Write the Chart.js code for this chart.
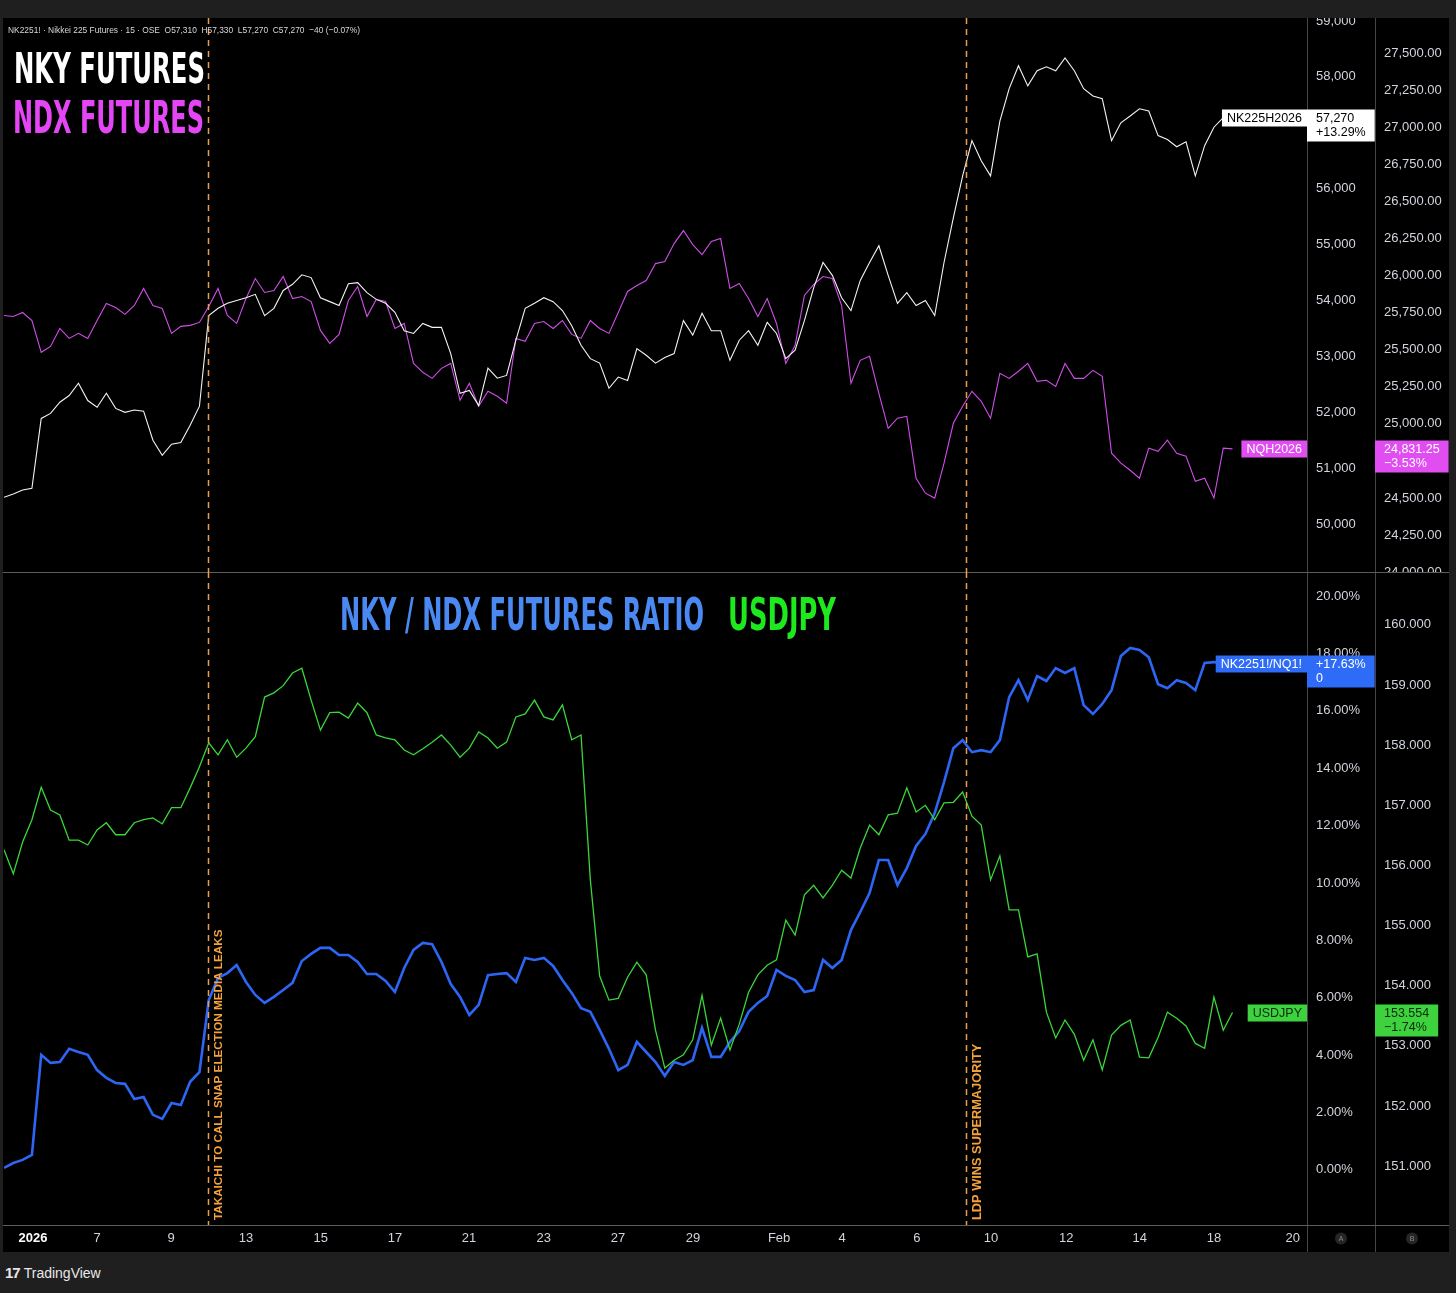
<!DOCTYPE html>
<html>
<head>
<meta charset="utf-8">
<title>NKY / NDX futures ratio vs USDJPY</title>
<script src="https://cdn.jsdelivr.net/npm/chart.js@4.4.1/dist/chart.umd.min.js"></script>
<style>
    body {
        margin: 0;
        width: 1456px;
        height: 1293px;
        overflow: hidden;
        background: #1f1f1f;
        font-family: "Liberation Sans", Arial, sans-serif;
    }

    #panel {
        position: absolute;
        left: 3px;
        top: 18px;
        width: 1446px;
        height: 1234px;
        background: #000;
    }

    .pane {
        position: absolute;
        left: 3px;
        width: 1446px;
    }

    #topPane { top: 18px; height: 554px; }
    #botPane { top: 572px; height: 680px; }

    .vline { position: absolute; top: 18px; width: 1px; height: 1234px; background: #454545; }
    .hline { position: absolute; left: 3px; width: 1446px; height: 1px; background: #5c5c5c; }

    .title {
        position: absolute;
        font-family: "DejaVu Sans Condensed", "DejaVu Sans", sans-serif;
        font-weight: bold;
        font-stretch: condensed;
        line-height: 1;
        white-space: nowrap;
        transform-origin: 0 0;
    }

    #legend {
        position: absolute;
        left: 8px;
        top: 24px;
        font-size: 9.5px;
        line-height: 11px;
        color: #d8d8d8;
        white-space: nowrap;
        transform-origin: 0 0;
    }

    #brand {
        position: absolute;
        left: 5px;
        top: 1264px;
        font-size: 14px;
        line-height: 18px;
        color: #e8e8e8;
    }

    #brand b {
        font-weight: 900;
        font-size: 15px;
        letter-spacing: -1px;
        margin-right: 4px;
    }
</style>
</head>
<body>
<div id="panel"></div>
<div class="vline" style="left:1307px"></div>
<div class="vline" style="left:1375px"></div>
<div class="hline" style="top:572px"></div>
<div class="hline" style="top:1225px"></div>

<div class="pane" id="topPane"><canvas id="topChart"></canvas></div>
<div class="pane" id="botPane"><canvas id="botChart"></canvas></div>

<div id="legend" data-w="352">NK2251! · Nikkei 225 Futures · 15 · OSE&nbsp; O57,310&nbsp; H57,330&nbsp; L57,270&nbsp; C57,270&nbsp; −40 (−0.07%)</div>
<div class="title" data-w="191" style="left:14px; top:46.6px; font-size:43px; color:#ffffff">NKY FUTURES</div>
<div class="title" data-w="191" style="left:13px; top:95.8px; font-size:44px; color:#e546f5">NDX FUTURES</div>
<div class="title" data-w="364" style="left:340px; top:592px; font-size:45px; color:#4a88f2">NKY / NDX FUTURES RATIO</div>
<div class="title" data-w="108" style="left:728px; top:592px; font-size:45px; color:#1ee81e">USDJPY</div>
<div id="brand"><b>17</b>TradingView</div>

<script>
    // quarter-session steps, Jan 5 - Feb 18 2026 (x = trading days from the left edge)
    const step = 0.25;

    const nky = [
        50480, 50540, 50610, 50640, 51890, 51980, 52180, 52300, 52520, 52210,
        52090, 52340, 52070, 52000, 52040, 52020, 51500, 51230, 51430, 51460,
        51770, 52110, 53730, 53860, 53950, 54000, 54050, 54110, 53730, 53860,
        54180, 54290, 54460, 54410, 54050, 53980, 53910, 54300, 54320, 54140,
        54020, 53950, 53790, 53460, 53410, 53590, 53520, 53520, 53050, 52340,
        52390, 52120, 52790, 52610, 52660, 53290, 53860, 53950, 54050, 53980,
        53820, 53550, 53200, 52960, 52880, 52430, 52630, 52570, 53140, 53020,
        52880, 52980, 53050, 53640, 53380, 53770, 53460, 53460, 52930, 53290,
        53460, 53200, 53610, 53410, 52960, 53110, 53640, 54230, 54680, 54450,
        54050, 53820, 54360, 54680, 54980, 54450, 53950, 54140, 53910, 54000,
        53730, 54680, 55480, 56230, 56860, 56500, 56230, 57210, 57790, 58200,
        57840, 58110, 58180, 58110, 58340, 58110, 57790, 57660, 57610, 56860,
        57180, 57300, 57430, 57390, 56950, 56880, 56750, 56840, 56230, 56770,
        57100, 57270, null
    ];

    const ndx = [
        25732, 25725, 25752, 25698, 25483, 25523, 25644, 25577, 25611, 25577,
        25698, 25813, 25786, 25739, 25799, 25914, 25799, 25779, 25611, 25658,
        25665, 25685, 25793, 25914, 25732, 25678, 25846, 25981, 25887, 25900,
        25995, 25846, 25860, 25826, 25631, 25543, 25604, 25833, 25927, 25725,
        25840, 25826, 25644, 25678, 25408, 25348, 25307, 25375, 25408, 25159,
        25274, 25119, 25220, 25186, 25139, 25577, 25557, 25678, 25691, 25644,
        25698, 25604, 25577, 25698, 25644, 25611, 25752, 25894, 25934, 25968,
        26082, 26096, 26217, 26305, 26210, 26143, 26231, 26251, 25914, 25948,
        25846, 25725, 25846, 25678, 25408, 25530, 25867, 25941, 25995, 25981,
        25799, 25274, 25429, 25456, 25206, 24970, 25038, 25051, 24633, 24532,
        24499, 24735, 25004, 25119, 25220, 25152, 25038, 25341, 25307, 25355,
        25408, 25287, 25294, 25253, 25408, 25307, 25307, 25361, 25321, 24802,
        24735, 24687, 24633, 24836, 24815, 24890, 24802, 24782, 24613, 24633,
        24499, 24836, 24831.25
    ];

    // NK2251!/NQ1! ratio, % change
    const ratio = [
        0.07, 0.24, 0.35, 0.52, 4.01, 3.73, 3.76, 4.22, 4.11, 4.01,
        3.48, 3.21, 3.03, 3.00, 2.47, 2.54, 1.92, 1.78, 2.33, 2.26,
        3.07, 3.41, 5.92, 6.69, 6.86, 7.14, 6.55, 6.10, 5.82, 6.03,
        6.27, 6.52, 7.28, 7.53, 7.74, 7.74, 7.49, 7.49, 7.25, 6.83,
        6.83, 6.59, 6.20, 7.04, 7.67, 7.91, 7.87, 7.25, 6.48, 6.03,
        5.40, 5.75, 6.79, 6.83, 6.86, 6.55, 7.39, 7.32, 7.39, 7.11,
        6.62, 6.17, 5.64, 5.51, 4.88, 4.22, 3.48, 3.66, 4.46, 4.11,
        3.76, 3.28, 3.76, 3.66, 3.83, 4.95, 3.94, 3.94, 4.46, 4.84,
        5.51, 5.82, 6.06, 6.97, 6.76, 6.62, 6.20, 6.27, 7.32, 7.04,
        7.32, 8.36, 8.99, 9.65, 10.80, 10.80, 9.93, 10.52, 11.29, 11.71,
        12.44, 13.52, 14.70, 14.98, 14.56, 14.63, 14.56, 14.98, 16.48, 17.07,
        16.38, 17.21, 17.04, 17.49, 17.32, 17.49, 16.20, 15.89, 16.24, 16.72,
        17.91, 18.19, 18.12, 17.87, 16.93, 16.79, 17.07, 16.97, 16.72, 17.67,
        17.70, 17.63, 17.63
    ];

    const usdjpy = [
        156.26, 155.86, 156.39, 156.76, 157.30, 156.92, 156.84, 156.42, 156.42, 156.34,
        156.59, 156.71, 156.51, 156.51, 156.71, 156.76, 156.79, 156.69, 156.96, 156.96,
        157.29, 157.64, 158.04, 157.84, 158.09, 157.80, 157.95, 158.14, 158.80, 158.87,
        158.99, 159.20, 159.28, 158.75, 158.25, 158.54, 158.55, 158.45, 158.70, 158.54,
        158.17, 158.12, 158.09, 157.92, 157.84, 157.94, 158.05, 158.17, 158.00, 157.80,
        157.95, 158.22, 158.12, 157.95, 158.05, 158.47, 158.52, 158.75, 158.47, 158.42,
        158.67, 158.09, 158.17, 155.76, 154.16, 153.76, 153.79, 154.14, 154.39, 154.18,
        153.26, 152.63, 152.76, 152.85, 153.10, 153.84, 153.01, 153.46, 152.93, 153.36,
        153.89, 154.18, 154.34, 154.43, 155.09, 154.84, 155.51, 155.67, 155.46, 155.67,
        155.92, 155.79, 156.29, 156.67, 156.51, 156.84, 156.87, 157.29, 156.89, 157.00,
        156.76, 157.04, 157.05, 157.22, 156.82, 156.67, 155.76, 156.16, 155.26, 155.26,
        154.48, 154.53, 153.56, 153.13, 153.43, 153.19, 152.76, 153.10, 152.60, 153.18,
        153.34, 153.43, 152.81, 152.80, 153.14, 153.56, 153.46, 153.33, 153.04, 152.96,
        153.81, 153.26, 153.554
    ];

    const dayTicks = [0.78, 2.5, 4.49, 6.5, 8.51, 10.5, 12.49, 14.5, 16.49, 18.51, 20.82, 22.51, 24.52, 26.51, 28.53, 30.51, 32.5, 34.62];
    const dayLabels = ['2026', '7', '9', '13', '15', '17', '21', '23', '27', '29', 'Feb', '4', '6', '10', '12', '14', '18', '20'];

    const nkyTicks = [50000, 51000, 52000, 53000, 54000, 55000, 56000, 57000, 58000, 59000];
    const ndxTicks = [24000, 24250, 24500, 24750, 25000, 25250, 25500, 25750, 26000, 26250, 26500, 26750, 27000, 27250, 27500];
    const pctTicks = [0, 2, 4, 6, 8, 10, 12, 14, 16, 18, 20];
    const jpyTicks = [151, 152, 153, 154, 155, 156, 157, 158, 159, 160];

    const events = [5.48, 25.84];
    const eventText = ['TAKAICHI TO CALL SNAP ELECTION MEDIA LEAKS', 'LDP WINS SUPERMAJORITY'];

    const FONT = '"Liberation Sans", Arial, sans-serif';
    Chart.defaults.font.family = FONT;

    const pts = arr => arr.map((v, i) => ({ x: i * step, y: v }));
    const last = arr => arr.filter(v => v !== null).slice(-1)[0];

    function yAxis(ticks, fmt, width, min, max) {
        return {
            position: 'right',
            min: min,
            max: max,
            grid: { display: false, drawTicks: false },
            border: { display: false },
            afterBuildTicks: s => { s.ticks = ticks.map(v => ({ value: v })); },
            afterFit: s => { s.width = width; s.paddingTop = 0; s.paddingBottom = 0; },
            ticks: { color: '#d1d4dc', padding: 9, autoSkip: false, font: { size: 13 }, callback: fmt }
        };
    }

    function line(data, axis, color, width) {
        return { data: pts(data), yAxisID: axis, borderColor: color, borderWidth: width, pointRadius: 0, tension: 0, spanGaps: false };
    }

    function drawTag(chart, t) {
        const ctx = chart.ctx;
        const a = chart.chartArea;
        const s = chart.scales[t.axis];
        const y = Math.round(s.getPixelForValue(t.value));
        ctx.save();
        ctx.font = '12.5px ' + FONT;
        ctx.textBaseline = 'middle';
        ctx.textAlign = 'left';
        const nameW = ctx.measureText(t.name).width + 10;
        const boxW = Math.max(...t.lines.map(l => ctx.measureText(l).width)) + 18;
        ctx.fillStyle = t.bg;
        ctx.fillRect(a.right - nameW, y - 8.5, nameW, 17);
        ctx.fillRect(s.left, y - 8.5, boxW, 32);
        ctx.fillStyle = t.fg;
        ctx.fillText(t.name, a.right - nameW + 5, y + 0.5);
        ctx.fillText(t.lines[0], s.left + 9, y + 0.5);
        ctx.fillText(t.lines[1], s.left + 9, y + 14.5);
        ctx.restore();
    }

    const overlay = {
        id: 'overlay',
        afterDraw(chart, args, opts) {
            const ctx = chart.ctx;
            const a = chart.chartArea;
            const x = chart.scales.x;

            ctx.save();
            ctx.strokeStyle = '#e99d4e';
            ctx.lineWidth = 1.5;
            ctx.setLineDash([6, 5]);
            events.forEach(d => {
                const px = Math.round(x.getPixelForValue(d)) + 0.5;
                ctx.beginPath();
                ctx.moveTo(px, a.top);
                ctx.lineTo(px, a.bottom);
                ctx.stroke();
            });
            ctx.restore();

            if (opts.notes) {
                ctx.save();
                ctx.fillStyle = '#f4a23c';
                ctx.textAlign = 'left';
                ctx.textBaseline = 'middle';
                events.forEach((d, i) => {
                    ctx.save();
                    ctx.font = 'bold ' + opts.noteSize[i] + 'px ' + FONT;
                    ctx.translate(x.getPixelForValue(d) + 11, a.bottom - 5);
                    ctx.rotate(-Math.PI / 2);
                    ctx.fillText(eventText[i], 0, 0);
                    ctx.restore();
                });
                ctx.restore();

                // scale badges under the price axes
                const cy = (x.top + x.bottom) / 2;
                ['yPct', 'yJpy'].forEach((id, i) => {
                    const s = chart.scales[id];
                    const cx = (s.left + s.right) / 2;
                    ctx.save();
                    ctx.fillStyle = '#262626';
                    ctx.beginPath();
                    ctx.arc(cx, cy, 6, 0, Math.PI * 2);
                    ctx.fill();
                    ctx.fillStyle = '#8a8a8a';
                    ctx.font = '7px ' + FONT;
                    ctx.textAlign = 'center';
                    ctx.textBaseline = 'middle';
                    ctx.fillText(i === 0 ? 'A' : 'B', cx, cy + 0.5);
                    ctx.restore();
                });
            }

            (opts.tags || []).forEach(t => drawTag(chart, t));
        }
    };

    new Chart(document.getElementById('topChart'), {
        type: 'line',
        data: {
            datasets: [
                line(nky, 'yNky', '#f4f4f4', 1.1),
                line(ndx, 'yNdx', '#d04ee8', 1.1)
            ]
        },
        options: {
            animation: false,
            responsive: true,
            maintainAspectRatio: false,
            layout: { padding: { left: 1 } },
            plugins: {
                legend: { display: false },
                tooltip: { enabled: false },
                overlay: {
                    tags: [
                        { axis: 'yNky', value: last(nky), name: 'NK225H2026', lines: ['57,270', '+13.29%'], bg: '#ffffff', fg: '#000000' },
                        { axis: 'yNdx', value: last(ndx), name: 'NQH2026', lines: ['24,831.25', '−3.53%'], bg: '#e04ef2', fg: '#ffffff' }
                    ]
                }
            },
            scales: {
                x: { type: 'linear', min: 0, max: 35, display: false },
                yNky: yAxis(nkyTicks, v => v.toLocaleString('en-US'), 68, 49143, 59054),
                yNdx: yAxis(ndxTicks, v => v.toLocaleString('en-US', { minimumFractionDigits: 2 }), 74, 24000, 27740)
            }
        },
        plugins: [overlay]
    });

    new Chart(document.getElementById('botChart'), {
        type: 'line',
        data: {
            datasets: [
                line(usdjpy, 'yJpy', '#3ad63a', 1.3),
                line(ratio, 'yPct', '#2d66f5', 2.6)
            ]
        },
        options: {
            animation: false,
            responsive: true,
            maintainAspectRatio: false,
            layout: { padding: { left: 1 } },
            plugins: {
                legend: { display: false },
                tooltip: { enabled: false },
                overlay: {
                    notes: true,
                    noteSize: [11.7, 12.8],
                    tags: [
                        { axis: 'yPct', value: last(ratio), name: 'NK2251!/NQ1!', lines: ['+17.63%', '0'], bg: '#2e6bf6', fg: '#ffffff' },
                        { axis: 'yJpy', value: last(usdjpy), name: 'USDJPY', lines: ['153.554', '−1.74%'], bg: '#3fd23f', fg: '#0b2a0b' }
                    ]
                }
            },
            scales: {
                x: {
                    type: 'linear',
                    min: 0,
                    max: 35,
                    grid: { display: false, drawTicks: false },
                    border: { display: false },
                    afterBuildTicks: s => { s.ticks = dayTicks.map(v => ({ value: v })); },
                    afterFit: s => { s.height = 27; s.paddingLeft = 0; s.paddingRight = 0; },
                    ticks: {
                        padding: 6,
                        autoSkip: false,
                        maxRotation: 0,
                        callback: (v, i) => dayLabels[i],
                        color: c => c.index === 0 ? '#ffffff' : '#d1d4dc',
                        font: c => ({ size: 13, weight: c.index === 0 ? 'bold' : 'normal' })
                    }
                },
                yPct: yAxis(pctTicks, v => v.toFixed(2) + '%', 68, -1.92, 20.84),
                yJpy: yAxis(jpyTicks, v => v.toFixed(3), 74, 150.02, 160.88)
            }
        },
        plugins: [overlay]
    });

    // squeeze the headline texts to the condensed width they have on the original
    document.querySelectorAll('[data-w]').forEach(el => {
        const w = el.getBoundingClientRect().width;
        el.style.transform = 'scaleX(' + (el.dataset.w / w) + ')';
    });
</script>
</body>
</html>
